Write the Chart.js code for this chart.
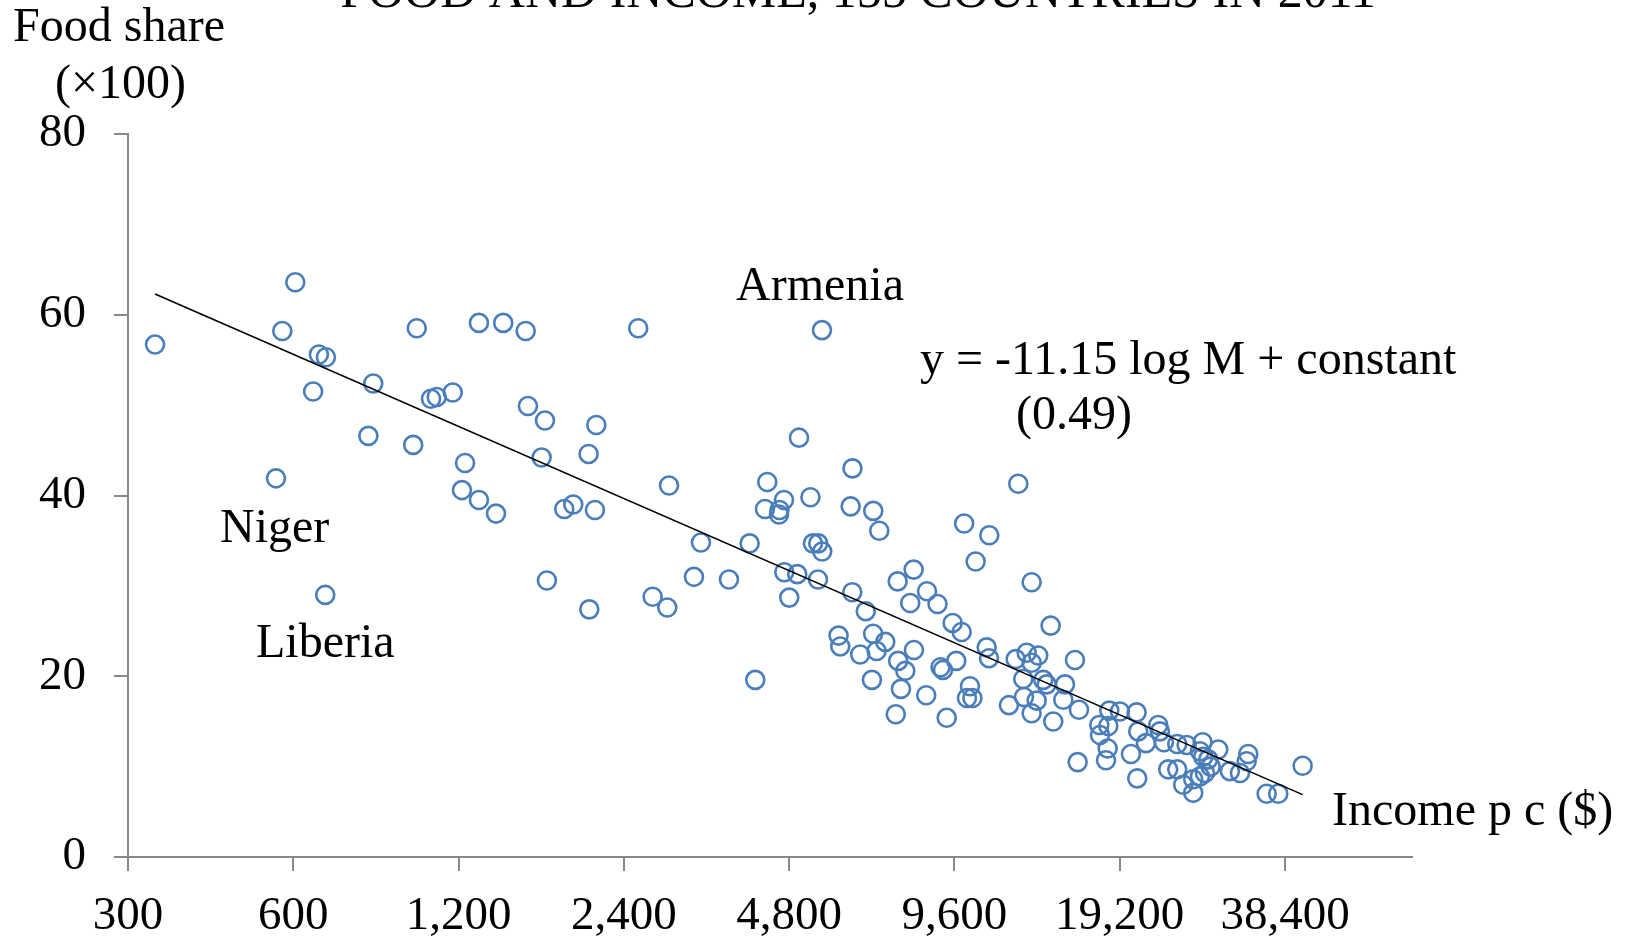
<!DOCTYPE html>
<html><head><meta charset="utf-8">
<script src="https://cdn.jsdelivr.net/npm/chart.js@4/dist/chart.umd.min.js"></script>
<style>html,body{margin:0;padding:0;background:#fff;}#wrap{width:1629px;height:936px;position:relative;}</style>
</head><body><div id="wrap"><canvas id="c" width="1629" height="936"></canvas></div>
<script>
// ---- data ----
const incomes = [336,605,573,668,688,652,839,1007,1307,1069,1095,1171,822,992,1233,558,1217,1307,686,1447,
1590,2549,5508,1605,1724,2138,2070,1700,1404,1869,1941,2126,2900,5002,4379,4697,4337,4609,4600,5248,
3316,4067,4703,4966,5416,1738,2076,2708,2879,3220,3729,4802,6260,6212,6830,7004,9998,5304,5423,5514,
10492,6254,6618,7566,8090,8557,7975,8942,9527,9895,5905,5947,6465,6827,7182,6927,7582,7812,8100,9055,
9150,9673,10244,10117,10352,6792,7671,8529,7506,9293,4164,12546,11110,13270,14370,10989,11096,12409,12995,13642,
13270,12811,13931,14131,12849,13551,13270,12065,14528,15913,15261,15153,16183,16094,18378,19216,20609,17624,18301,17675,
18254,18125,20749,21430,20124,20663,22564,22726,23108,24436,25419,27182,29025,26876,27251,27829,28109,27444,26876,23526,
24436,25056,26130,26130,30476,31790,32914,32695,35554,37325,41341];
const foodShares = [56.7,63.6,58.2,55.6,55.3,51.5,52.4,58.5,59.1,50.7,50.9,51.4,46.6,45.6,43.6,41.9,40.6,39.5,29.0,59.1,
58.2,58.5,58.3,49.9,48.3,47.8,44.6,44.2,38.0,38.5,39.0,38.4,41.1,46.4,41.5,39.5,38.5,38.4,37.9,39.8,
34.8,34.7,31.5,31.3,30.7,30.6,27.4,28.8,27.6,31.0,30.7,28.7,43.0,38.8,38.3,36.1,36.9,34.7,34.7,33.8,
32.7,29.3,27.2,30.5,31.8,29.4,28.1,28.0,25.9,24.9,24.5,23.3,22.4,24.7,23.8,22.8,21.7,20.6,22.9,21.0,
20.7,21.7,18.9,17.6,17.6,19.6,18.6,17.9,15.8,15.4,19.6,41.3,35.6,30.4,25.6,23.2,22.0,21.9,22.6,22.3,
21.5,19.7,19.6,19.1,17.7,17.3,15.9,16.8,15.0,21.8,19.1,17.4,16.3,10.5,16.2,16.1,16.0,14.6,14.5,13.5,
12.0,10.7,13.9,12.6,11.4,8.7,14.6,13.9,12.7,12.5,12.4,12.7,11.9,11.7,11.1,10.8,10.0,9.3,8.9,9.7,
9.7,8.0,8.6,7.1,9.5,9.3,11.4,10.6,7.0,7.0,10.1];
const trendIncome = [336, 41340];
const trendShare = [62.3, 6.9];
const xTickValues = [300,600,1200,2400,4800,9600,19200,38400];
const yTickValues = [0,20,40,60,80];
const xMin = 300, xMax = 65400, yMin = 0, yMax = 80;
const titleText = 'FOOD AND INCOME, 155 COUNTRIES IN 2011';

// ---- styling / layout ----
const FONT = "'Liberation Serif','Times New Roman',serif";
const AXIS = '#898989';
const BLUE = '#4a7ebb';
const texts = [
  {t: titleText, x: 858, y: 7, size: 50, align: 'center'},
  {t: 'Food share', x: 13, y: 41, size: 48},
  {t: '(\u00d7100)', x: 55, y: 98, size: 48},
  {t: 'Armenia', x: 736, y: 300, size: 48},
  {t: 'y = -11.15 log M + constant', x: 920, y: 374, size: 48},
  {t: '(0.49)', x: 1016, y: 429, size: 48},
  {t: 'Niger', x: 220, y: 542, size: 48},
  {t: 'Liberia', x: 256, y: 657, size: 48},
  {t: 'Income p c ($)', x: 1332, y: 825, size: 48}
];
const textPlugin = {
  id: 'texts',
  afterDraw(chart) {
    const ctx = chart.ctx;
    ctx.save();
    ctx.fillStyle = '#000';
    ctx.textBaseline = 'alphabetic';
    for (const l of texts) {
      ctx.font = l.size + 'px ' + FONT;
      ctx.textAlign = l.align || 'left';
      ctx.fillText(l.t, l.x, l.y);
    }
    ctx.restore();
  }
};

const points = incomes.map((v, i) => ({x: v, y: foodShares[i]}));
const trend = trendIncome.map((v, i) => ({x: v, y: trendShare[i]}));

new Chart(document.getElementById('c'), {
  type: 'scatter',
  data: {
    datasets: [
      {type: 'line', data: trend, borderColor: '#000', borderWidth: 1.6, pointRadius: 0, fill: false, order: 0},
      {data: points, pointStyle: 'circle', pointRadius: 9, pointBorderWidth: 2.6, borderColor: BLUE,
       backgroundColor: 'rgba(0,0,0,0)', pointHoverRadius: 9, order: 1}
    ]
  },
  options: {
    responsive: false,
    animation: false,
    events: [],
    layout: {padding: {top: 134, right: 217, left: 0, bottom: 0}},
    plugins: {legend: {display: false}, tooltip: {enabled: false}, title: {display: false}},
    scales: {
      x: {
        type: 'logarithmic', position: 'bottom', min: xMin, max: xMax,
        afterBuildTicks(s) { s.ticks = xTickValues.map(v => ({value: v})); },
        afterFit(s) { s.height = 79; },
        ticks: {autoSkip: false, maxRotation: 0, minRotation: 0, padding: 17, color: '#000',
          font: {family: FONT, size: 47},
          callback: v => Number(v).toLocaleString('en-US')},
        grid: {display: true, drawOnChartArea: false, drawTicks: true, tickLength: 14, color: AXIS, lineWidth: 2},
        border: {display: true, color: AXIS, width: 2}
      },
      y: {
        type: 'linear', position: 'left', min: yMin, max: yMax,
        afterBuildTicks(s) { s.ticks = yTickValues.map(v => ({value: v})); },
        afterFit(s) { s.width = 128; },
        ticks: {padding: 28, color: '#000', font: {family: FONT, size: 47}},
        grid: {display: true, drawOnChartArea: false, drawTicks: true, tickLength: 14, color: AXIS, lineWidth: 2},
        border: {display: true, color: AXIS, width: 2}
      }
    }
  },
  plugins: [textPlugin]
});
</script></body></html>
